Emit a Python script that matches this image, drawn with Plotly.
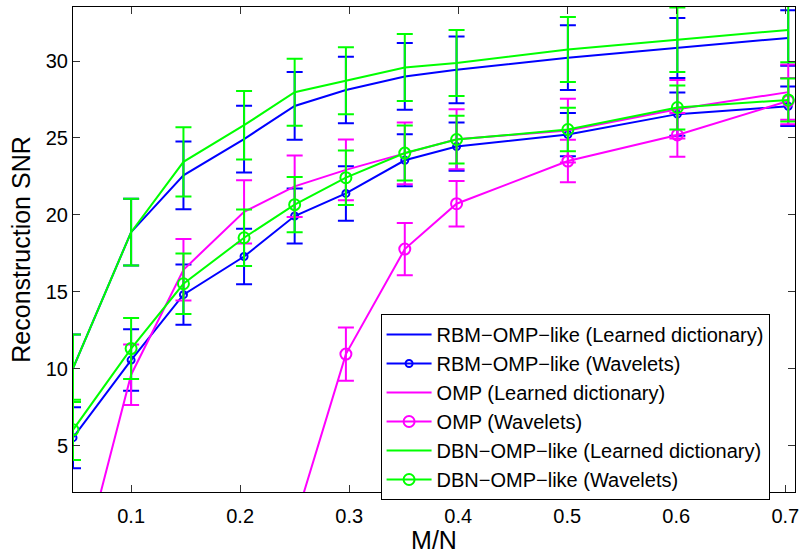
import plotly.graph_objects as go

# M/N sample positions
mn = [0.0467, 0.1, 0.148, 0.2036, 0.25, 0.297, 0.351, 0.3985, 0.5006, 0.601, 0.7027]

rbm_learned = [10.04, 18.88, 22.57, 24.93, 27.08, 28.12, 29.0, 29.43, 30.22, 30.84, 31.5]
rbm_learned_err = [2.2, 2.17, 2.2, 2.17, 2.2, 2.16, 2.17, 2.17, 2.1, 1.95, 1.8]

rbm_wave = [5.53, 10.57, 14.82, 17.3, 19.93, 21.4, 23.55, 24.44, 25.22, 26.55, 27.06]
rbm_wave_err = [1.98, 2.0, 1.96, 1.8, 1.79, 1.77, 1.69, 1.57, 1.4, 1.4, 1.28]

omp_learned = [-5.0, 9.62, 16.44, 20.2, 21.86, 22.93, 24.0, 24.92, 25.48, 26.87, 27.98]
omp_learned_err = [2.0, 1.97, 2.0, 2.05, 2.0, 1.97, 2.0, 1.95, 2.07, 1.9, 1.8]

omp_wave = [-14.0, -10.0, -6.0, -3.0, 0.0, 10.96, 17.78, 20.73, 23.5, 25.2, 27.4]
omp_wave_err = [1.7, 1.7, 1.7, 1.7, 1.7, 1.73, 1.69, 1.48, 1.38, 1.42, 1.5]

dbn_learned = [10.04, 18.88, 23.45, 25.83, 27.97, 28.72, 29.58, 29.87, 30.75, 31.38, 32.02]
dbn_learned_err = [2.2, 2.17, 2.25, 2.22, 2.18, 2.18, 2.18, 2.15, 2.11, 2.1, 2.1]

dbn_wave = [6.04, 11.32, 15.53, 18.52, 20.67, 22.42, 24.02, 24.9, 25.55, 26.98, 27.47]
dbn_wave_err = [1.96, 1.98, 1.97, 1.83, 1.79, 1.77, 1.79, 1.55, 1.41, 1.43, 1.4]

x_ticks = [0.1, 0.2, 0.3, 0.4, 0.5, 0.6, 0.7]
y_ticks = [5, 10, 15, 20, 25, 30]

BLUE = "#0000FF"
MAGENTA = "#FF00FF"
GREEN = "#00FF00"
FONT = "Liberation Sans, Arial, Helvetica, sans-serif"

series = [
    ("RBM\u2212OMP\u2212like (Learned dictionary)", rbm_learned, rbm_learned_err, BLUE, None, 0),
    ("RBM\u2212OMP\u2212like (Wavelets)", rbm_wave, rbm_wave_err, BLUE, "circle-open", 7),
    ("OMP (Learned dictionary)", omp_learned, omp_learned_err, MAGENTA, None, 0),
    ("OMP (Wavelets)", omp_wave, omp_wave_err, MAGENTA, "circle-open", 11),
    ("DBN\u2212OMP\u2212like (Learned dictionary)", dbn_learned, dbn_learned_err, GREEN, None, 0),
    ("DBN\u2212OMP\u2212like (Wavelets)", dbn_wave, dbn_wave_err, GREEN, "circle-open", 11),
]

fig = go.Figure()
for name, vals, errs, col, sym, size in series:
    mode = "lines+markers" if sym else "lines"
    fig.add_trace(go.Scatter(
        x=mn, y=vals, name=name, mode=mode,
        line=dict(color=col, width=2),
        marker=dict(symbol=sym or "circle", size=size, color=col,
                    line=dict(color=col, width=2)),
        error_y=dict(type="data", array=errs, visible=True, color=col,
                     thickness=2, width=8),
    ))

fig.update_layout(
    width=805, height=554,
    margin=dict(l=73, r=6, t=6, b=55),
    paper_bgcolor="white", plot_bgcolor="white",
    font=dict(family=FONT, size=20, color="black"),
    showlegend=True,
    legend=dict(
        x=0.426, y=0.367, xanchor="left", yanchor="top",
        bgcolor="white", bordercolor="black", borderwidth=1,
        font=dict(family=FONT, size=20, color="black"),
        traceorder="normal", itemwidth=45,
    ),
)

fig.update_xaxes(
    range=[0.0467, 0.7089], tickvals=x_ticks, ticktext=[str(t) for t in x_ticks],
    ticks="inside", ticklen=7, tickcolor="#333333", tickwidth=1,
    showline=True, linecolor="black", linewidth=1, mirror="allticks",
    showgrid=False, zeroline=False, ticklabelstandoff=6,
    title=dict(text="M/N", font=dict(family=FONT, size=25), standoff=3),
    tickfont=dict(family=FONT, size=20),
)
fig.update_yaxes(
    range=[2.0, 33.51], tickvals=y_ticks, ticktext=[str(t) for t in y_ticks],
    ticks="inside", ticklen=7, tickcolor="#333333", tickwidth=1,
    showline=True, linecolor="black", linewidth=1, mirror="allticks",
    showgrid=False, zeroline=False,
    title=dict(text="Reconstruction SNR", font=dict(family=FONT, size=25), standoff=8),
    tickfont=dict(family=FONT, size=20),
)

fig.write_html("out.html")
